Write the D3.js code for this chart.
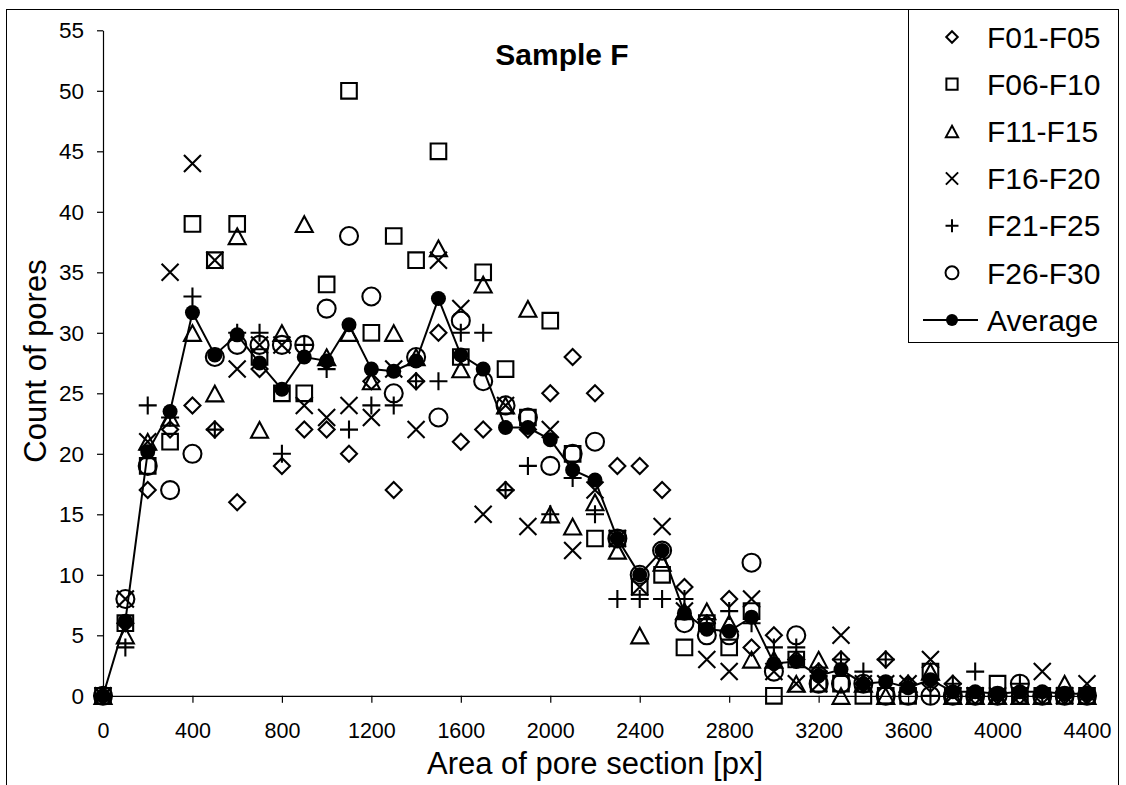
<!DOCTYPE html>
<html>
<head>
<meta charset="utf-8">
<script src="https://cdn.jsdelivr.net/npm/d3@7"></script>
<style>
  html, body { margin: 0; padding: 0; background: #fff; }
  svg { display: block; }
  text { font-family: "Liberation Sans", Arial, sans-serif; fill: #000; }
</style>
</head>
<body>
<svg id="chart" width="1126" height="785"></svg>
<script>
// ---------------- DATA ----------------
const areas = [0,100,200,300,400,500,600,700,800,900,1000,1100,1200,1300,1400,1500,1600,1700,1800,1900,
  2000,2100,2200,2300,2400,2500,2600,2700,2800,2900,3000,3100,3200,3300,3400,3500,3600,3700,3800,3900,
  4000,4100,4200,4300,4400];

const seriesNames = ["F01-F05","F06-F10","F11-F15","F16-F20","F21-F25","F26-F30"];

const f01_f05 = [0,6,17,22,24,22,16,27,19,22,22,20,26,17,26,30,21,22,17,22,25,28,25,19,19,17,9,6,8,4,5,3,2,3,1,3,1,1,1,0,0,0,0,0,0];
const f06_f10 = [0,6,19,21,39,36,39,28,25,25,34,50,30,38,36,45,28,35,27,23,31,20,13,13,9,10,4,6,4,7,0,3,1,1,0,0,0,2,0,0,1,0,0,0,0];
const f11_f15 = [0,5,21,23,30,25,38,22,30,39,28,30,26,30,28,37,27,34,24,32,15,14,16,12,5,11,7,7,6,3,3,1,3,0,1,0,1,2,0,0,0,0,0,1,0];
const f16_f20 = [0,8,21,35,44,36,27,29,29,24,23,24,23,27,22,36,32,15,24,14,22,12,17,13,9,14,7,3,2,8,2,1,1,5,1,1,1,3,0,0,0,0,2,0,1];
const f21_f25 = [0,4,24,23,33,22,30,30,20,29,27,22,24,24,26,26,30,30,17,19,15,18,15,8,8,8,8,6,7,6,4,4,2,3,2,3,1,0,1,2,0,1,0,0,0];
const f26_f30 = [0,8,19,17,20,28,29,29,29,29,32,38,33,25,28,23,31,26,24,23,19,20,21,13,10,12,6,5,5,11,2,5,1,1,1,0,0,0,0,0,0,1,0,0,0];
const average = [0,6.17,20.17,23.5,31.67,28.17,29.83,27.5,25.33,28,27.67,30.67,27,26.83,27.67,32.83,28.17,27,22.17,22.17,
  21.17,18.67,17.83,13,10,12,6.83,5.5,5.33,6.5,2.67,2.83,1.67,2.17,1,1.17,0.67,1.33,0.33,0.33,0.17,0.33,0.33,0.17,0.17];

const xTicks = [0,400,800,1200,1600,2000,2400,2800,3200,3600,4000,4400];
const yTicks = [0,5,10,15,20,25,30,35,40,45,50,55];

// ---------------- LAYOUT ----------------
const svg = d3.select("#chart");
const W = 1126, H = 785;
const plotL = 103, plotR = 1087, plotT = 30.3, plotB = 695.8;

svg.append("rect").attr("x",0).attr("y",0).attr("width",W).attr("height",H).attr("fill","#fff");
// chart-area border (bottom edge lies outside the picture)
svg.append("rect").attr("x",6.5).attr("y",9.5).attr("width",1112).attr("height",820)
  .attr("fill","none").attr("stroke","#000").attr("stroke-width",1);

const x = d3.scaleLinear().domain([0,4400]).range([plotL, plotR]);
const y = d3.scaleLinear().domain([0,55]).range([plotB, plotT]);

// axes
const yAxis = d3.axisLeft(y).tickValues(yTicks).tickSizeInner(6).tickSizeOuter(0).tickPadding(13)
  .tickFormat(d3.format("d"));
const gy = svg.append("g").attr("transform",`translate(${plotL},0)`).call(yAxis);
const xAxis = d3.axisBottom(x).tickValues(xTicks).tickSizeInner(7).tickSizeOuter(0).tickPadding(20)
  .tickFormat(d3.format("d"));
const gx = svg.append("g").attr("transform",`translate(0,${plotB})`).call(xAxis);
[gx, gy].forEach(g => {
  g.select(".domain").attr("stroke","#000").attr("stroke-width",1.2);
  g.selectAll(".tick line").attr("stroke","#000").attr("stroke-width",1.2);
  g.selectAll(".tick text").attr("font-family","'Liberation Sans', Arial, sans-serif")
    .attr("fill","#000");
});
gx.selectAll(".tick text").attr("font-size",21.5);
gy.selectAll(".tick text").attr("font-size",22.5);

// axis titles
svg.append("text").attr("x",(plotL+plotR)/2).attr("y",774)
  .attr("text-anchor","middle").attr("font-size",31).text("Area of pore section [px]");
svg.append("text").attr("transform","translate(46,361) rotate(-90)")
  .attr("text-anchor","middle").attr("font-size",31).text("Count of pores");

// chart title
svg.append("text").attr("x",562).attr("y",65).attr("text-anchor","middle")
  .attr("font-size",30).attr("font-weight","bold").text("Sample F");

// ---------------- MARKERS ----------------
const sw = 2.1;
const shapes = {
  diamond: s => `M0,${-s}L${s},0L0,${s}L${-s},0Z`,
  square: s => `M${-s},${-s}H${s}V${s}H${-s}Z`,
  triangle: s => `M0,${-s*0.9}L${s},${s*0.95}L${-s},${s*0.95}Z`,
  cross: s => `M${-s},${-s}L${s},${s}M${-s},${s}L${s},${-s}`,
  plus: s => `M${-s},0H${s}M0,${-s}V${s}`,
  circle: s => `M${s},0A${s},${s} 0 1,1 ${-s},0A${s},${s} 0 1,1 ${s},0Z`
};
const seriesDefs = [
  {name: seriesNames[0], data: f01_f05, shape: "diamond", size: 8},
  {name: seriesNames[1], data: f06_f10, shape: "square", size: 7.8},
  {name: seriesNames[2], data: f11_f15, shape: "triangle", size: 8.5},
  {name: seriesNames[3], data: f16_f20, shape: "cross", size: 8.5},
  {name: seriesNames[4], data: f21_f25, shape: "plus", size: 9},
  {name: seriesNames[5], data: f26_f30, shape: "circle", size: 9}
];

const plotG = svg.append("g");
seriesDefs.forEach(sd => {
  plotG.append("g").selectAll("path")
    .data(areas.map((a,i) => [a, sd.data[i]]))
    .join("path")
    .attr("transform", d => `translate(${x(d[0])},${y(d[1])})`)
    .attr("d", shapes[sd.shape](sd.size))
    .attr("fill","none").attr("stroke","#000").attr("stroke-width",sw);
});

// average line + filled markers
const line = d3.line().x(d => x(d[0])).y(d => y(d[1]));
const avgPts = areas.map((a,i) => [a, average[i]]);
plotG.append("path").datum(avgPts).attr("d", line)
  .attr("fill","none").attr("stroke","#000").attr("stroke-width",2);
plotG.append("g").selectAll("circle").data(avgPts).join("circle")
  .attr("cx", d => x(d[0])).attr("cy", d => y(d[1])).attr("r", 7.5).attr("fill","#000");

// ---------------- LEGEND ----------------
const lg = svg.append("g");
lg.append("rect").attr("x",908.5).attr("y",9.5).attr("width",210).attr("height",333)
  .attr("fill","#fff").attr("stroke","#000").attr("stroke-width",1);
const rowY = d3.scaleLinear().domain([0,6]).range([37, 320]);
const mx = 952, tx = 987;
seriesDefs.forEach((sd,i) => {
  lg.append("path").attr("transform",`translate(${mx},${rowY(i)})`)
    .attr("d", shapes[sd.shape](sd.size*0.72))
    .attr("fill","none").attr("stroke","#000").attr("stroke-width",2);
  lg.append("text").attr("x",tx).attr("y",rowY(i)).attr("dy","0.36em")
    .attr("font-size",30).text(sd.name);
});
lg.append("line").attr("x1",923).attr("x2",978).attr("y1",rowY(6)).attr("y2",rowY(6))
  .attr("stroke","#000").attr("stroke-width",2);
lg.append("circle").attr("cx",mx).attr("cy",rowY(6)).attr("r",6).attr("fill","#000");
lg.append("text").attr("x",tx).attr("y",rowY(6)).attr("dy","0.36em")
  .attr("font-size",30).text("Average");
</script>
</body>
</html>
